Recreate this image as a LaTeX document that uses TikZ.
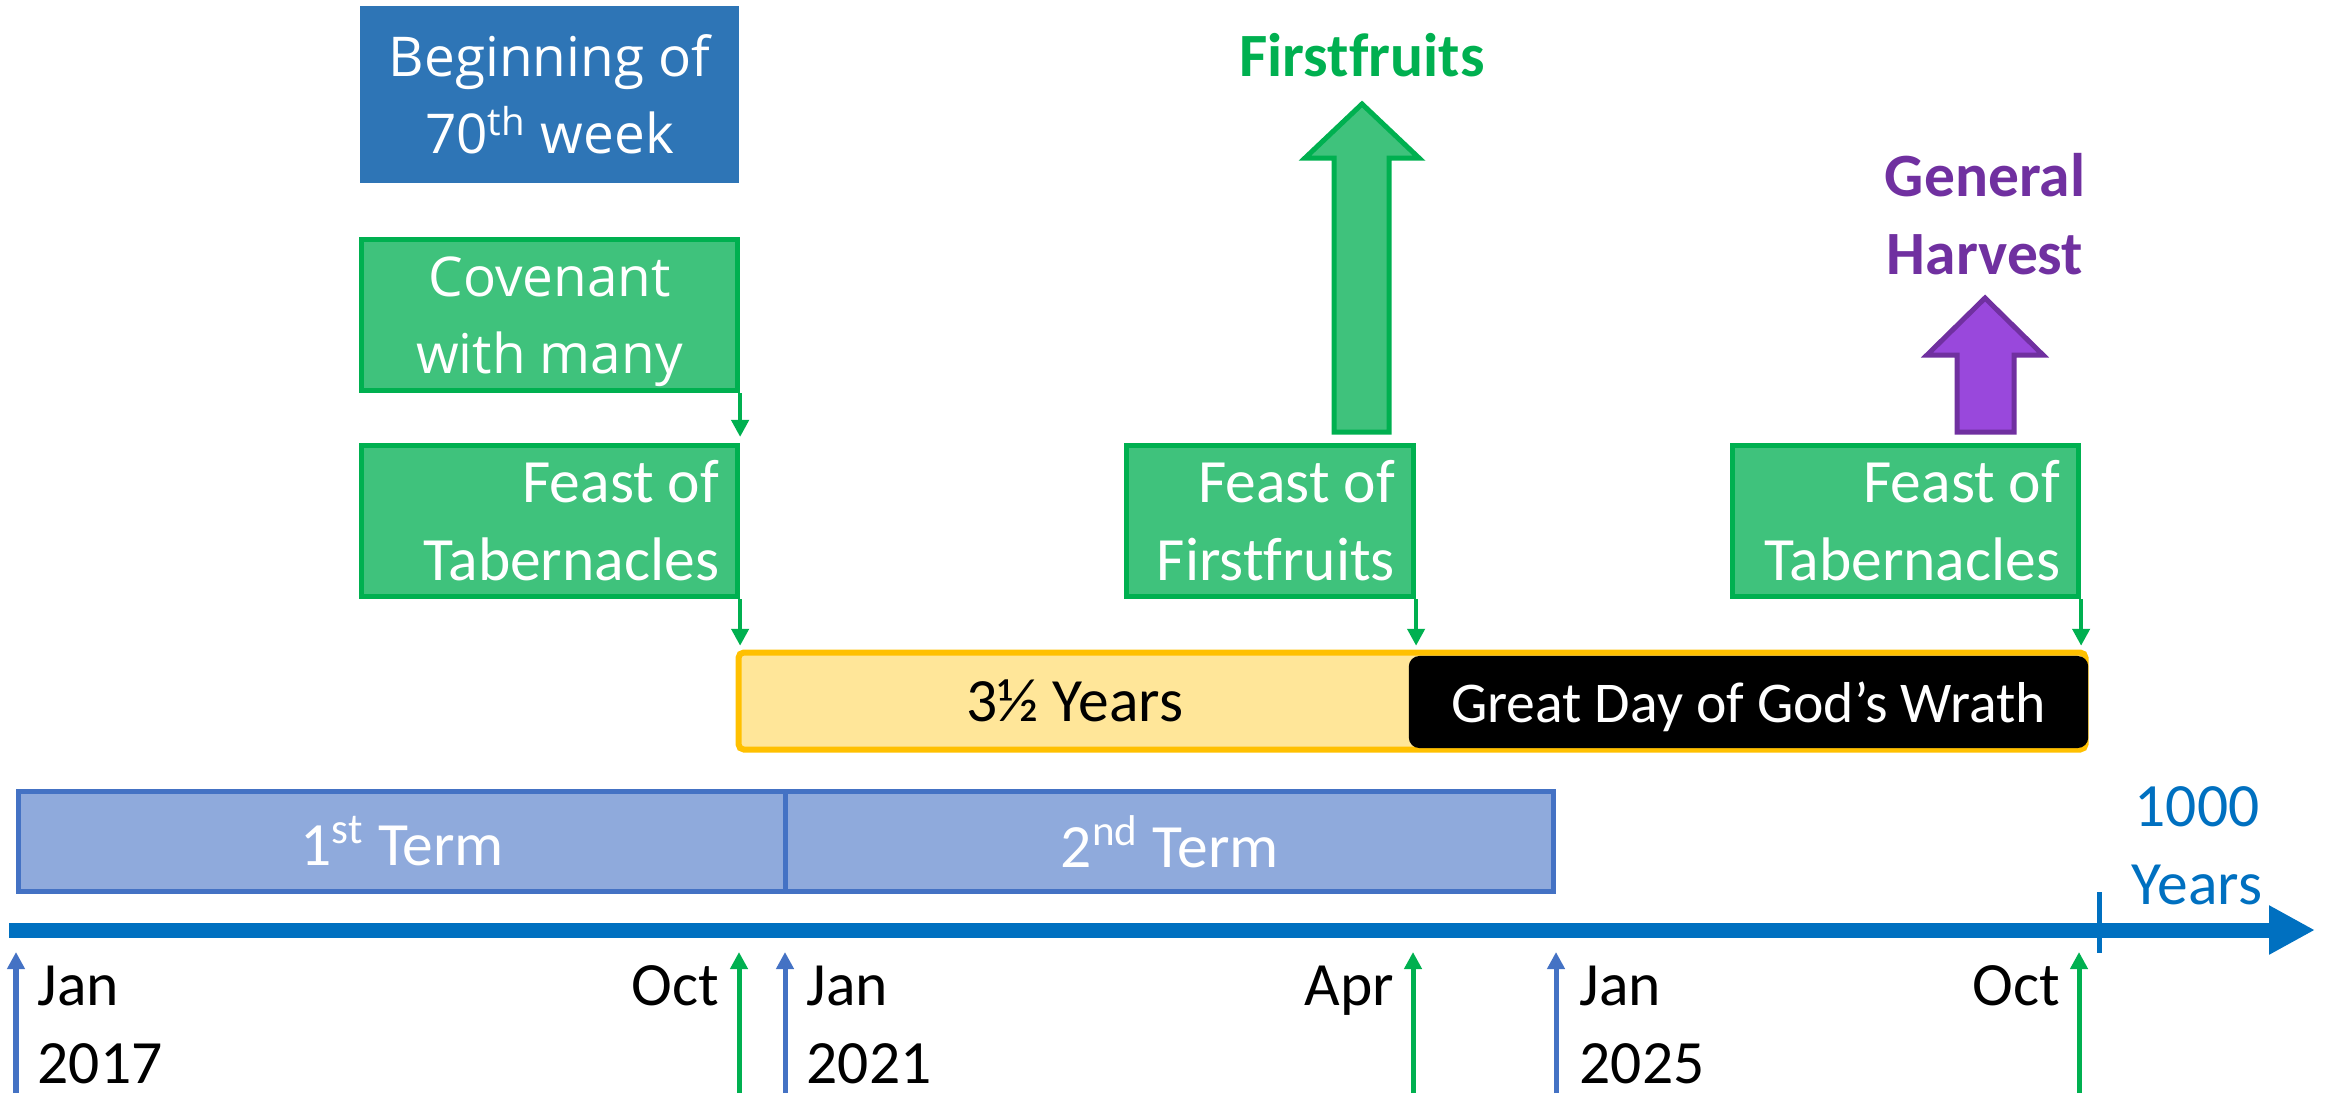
\documentclass[tikz,border=0pt]{standalone}
\usepackage{fontspec}
\setmainfont{Carlito}[Ligatures=CommonOff]
\newfontfamily\osans{Open Sans}
\usetikzlibrary{arrows.meta,calc}
\definecolor{gfill}{RGB}{63,194,124}
\definecolor{gline}{RGB}{0,176,80}
\definecolor{bboxc}{RGB}{46,117,182}
\definecolor{pfill}{RGB}{153,72,220}
\definecolor{pline}{RGB}{112,48,160}
\definecolor{yfill}{RGB}{255,230,153}
\definecolor{yline}{RGB}{255,192,0}
\definecolor{tfill}{RGB}{143,170,220}
\definecolor{tline}{RGB}{68,114,196}
\definecolor{axisc}{RGB}{0,112,192}
\begin{document}
\begin{tikzpicture}[x=0.01cm,y=-0.01cm,
  cal/.style={font=\fontsize{17.5pt}{22.2pt}\selectfont},
  osf/.style={font=\osans\fontsize{15.6pt}{21.9pt}\selectfont},
  gbox/.style={draw=gline,fill=gfill,line width=0.05cm,text=white,inner xsep=0.185cm,inner ysep=0pt},
  feast/.style={gbox,cal,align=flush right,minimum height=1.51cm},
  conn/.style={draw=gline,line width=0.045cm,-{Triangle[length=0.17cm,width=0.17cm]},shorten >=0.06cm},
  tickarrow/.style={line width=0.05cm,-{Triangle[length=0.17cm,width=0.17cm]}},
  termbox/.style={draw=tline,fill=tfill,line width=0.05cm,text=white,cal,minimum width=7.675cm,minimum height=1cm,inner sep=0pt},
  barline/.style={draw=yline,line width=0.06cm,rounded corners=1.5pt},
  datel/.style={cal,inner sep=0pt,align=left,anchor=north west},
  dater/.style={cal,inner sep=0pt,align=right,anchor=north east},
  blockarrow/.style={line width=0.05cm},
]
\useasboundingbox (0,0) rectangle (2330,1093);

% top boxes
\node[fill=bboxc,text=white,osf,align=center,minimum width=3.79cm,minimum height=1.77cm,inner sep=0pt] (week) at (549.5,94.5) {Beginning of\\70\textsuperscript{th} week};
\node[gbox,osf,align=center,minimum width=3.76cm,minimum height=1.51cm,text depth=0pt] (cov) at (549.5,315) {Covenant\\with many};
\node[feast,text width=3.39cm] (fot1) at (549.5,521) {Feast of\\Tabernacles};
\node[feast,text width=2.50cm] (fof) at (1270,521) {Feast of\\Firstfruits};
\node[feast,text width=3.09cm] (fot2) at (1905.5,521) {Feast of\\Tabernacles};

% block arrows
\draw[blockarrow,draw=gline,fill=gfill] (1334,432) -- (1334,158) -- (1305,158) -- (1362,104) -- (1419,158) -- (1389,158) -- (1389,432) -- cycle;
\draw[blockarrow,draw=pline,fill=pfill] (1957,432) -- (1957,355) -- (1927,355) -- (1985,298) -- (2043,355) -- (2014,355) -- (2014,432) -- cycle;
\node[font=\fontsize{17.5pt}{22.2pt}\selectfont\bfseries,text=gline,anchor=base,inner sep=0pt] (ff) at (1362,76) {Firstfruits};
\node[font=\fontsize{17.5pt}{22.2pt}\selectfont\bfseries,text=pline,align=center,anchor=north,inner sep=0pt] (gh) at (1985,153) {General\\Harvest};

% bar
\draw[barline,fill=yfill] (738.5,652.5) rectangle (2085.5,749.5);
\node[minimum width=6.725cm,minimum height=0.97cm,inner sep=0pt,cal] (years) at (1074.75,701) {3½ Years};
\node[fill=black,rounded corners=3pt,minimum width=6.79cm,minimum height=0.92cm,inner sep=0pt,text=white,font=\fontsize{16.4pt}{20pt}\selectfont,text depth=0pt] (wrath) at (1748.5,702) {Great Day of God’s Wrath};

% connectors
\draw[conn] (cov.south east) -- (cov.south east |- fot1.north);
\draw[conn] (fot1.south east) -- (fot1.south east |- years.north);
\draw[conn] (fof.south east) -- (fof.south east |- years.north);
\draw[conn] (fot2.south east) -- (fot2.south east |- years.north);

% terms
\node[termbox] (term1) at (402.25,841.5) {1\textsuperscript{st} Term};
\node[termbox] (term2) at (1169.75,841.5) {2\textsuperscript{nd} Term};

% timeline
\coordinate (tlstart) at (9,930);
\coordinate (tlend) at (2315,930);
\draw[axisc,line width=0.15cm,-{Triangle[length=0.46cm,width=0.46cm]}] (tlstart) -- (tlend);
\coordinate (mk1) at (2099,892);
\coordinate (mk2) at (2099,953);
\draw[axisc,line width=0.05cm] (mk1) -- (mk2);
\node[cal,text=axisc,align=center,anchor=north,inner sep=0pt] (mil) at (2197,786) {1000\\Years};

% bottom arrows
\foreach \x/\c [count=\i] in {16/tline,739/gline,785/tline,1413/gline,1556/tline,2079/gline}{
  \coordinate (ba\i) at (\x,1093);
  \coordinate (bt\i) at (\x,952);
  \draw[tickarrow,\c] (ba\i) -- (bt\i);
}

% date labels
\node[datel] (d1) at (37,965) {Jan\\2017};
\node[dater] (d2) at (720,965) {Oct};
\node[datel] (d3) at (806,965) {Jan\\2021};
\node[dater] (d4) at (1395,965) {Apr};
\node[datel] (d5) at (1579,965) {Jan\\2025};
\node[dater] (d6) at (2061,965) {Oct};
\end{tikzpicture}
\end{document}
